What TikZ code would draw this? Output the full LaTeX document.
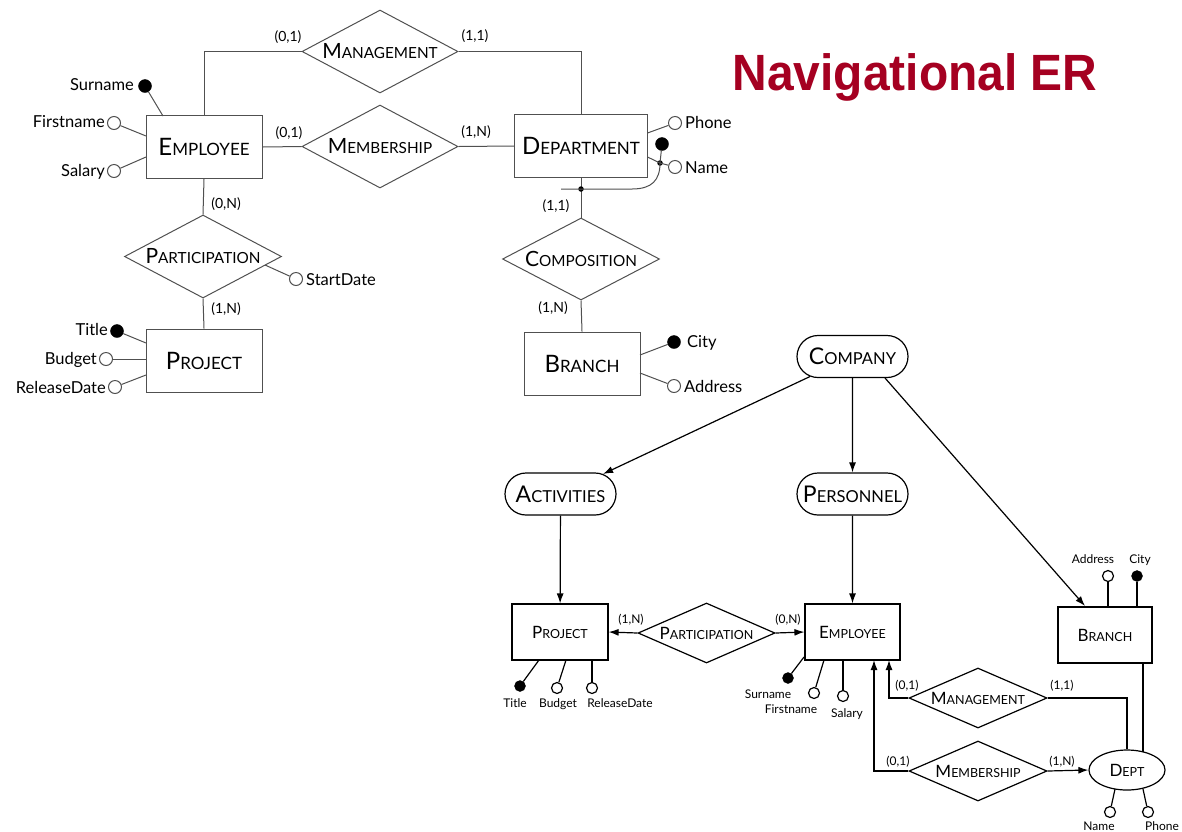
\documentclass[tikz,border=0pt]{standalone}
\usepackage{fontspec}
\setmainfont{Lato}
\newfontfamily\titlefont{Liberation Sans}
\usetikzlibrary{shapes.geometric,shapes.misc,arrows.meta}
\definecolor{titlered}{RGB}{165,0,33}
\definecolor{lg}{RGB}{80,80,80}
\newcommand\fsc[4]{{\fontsize{#1}{#1}\selectfont #3}{\fontsize{#2}{#2}\selectfont #4}}
\newcommand\fs[1]{\fontsize{#1}{#1}\selectfont}
\tikzset{
  tbox/.style={draw=lg, line width=1pt, rectangle, minimum width=116pt, minimum height=63pt, inner sep=0pt},
  trel/.style={draw=lg, line width=1pt, diamond, aspect=1.88, minimum width=156pt, minimum height=83pt, inner sep=0pt},
  tline/.style={draw=lg, line width=1pt},
  tcard/.style={font=\fs{14}, inner sep=0pt},
  tatt/.style={font=\fs{16.5}, inner sep=0pt},
  topen/.style={circle, draw=lg, line width=1pt, fill=white, minimum size=13pt, inner sep=0pt},
  tfull/.style={circle, draw=black, fill=black, minimum size=13pt, inner sep=0pt},
  tdot/.style={circle, fill=black, minimum size=5.5pt, inner sep=0pt},
  lbox/.style={draw, line width=1.2pt, rectangle, minimum height=56pt, inner sep=0pt},
  lrel/.style={draw, line width=1.2pt, diamond, aspect=2.28, minimum width=137pt, minimum height=60pt, inner sep=0pt},
  loval/.style={draw, line width=1.2pt, rounded rectangle, minimum width=111pt, minimum height=42pt, inner sep=0pt},
  lline/.style={line width=1.2pt},
  larr/.style={line width=1.2pt, -{Latex[length=10pt,width=7pt]}},
  lcard/.style={font=\fs{12}, inner sep=0pt},
  latt/.style={font=\fs{12}, inner sep=0pt},
  lopen/.style={circle, draw, line width=1.2pt, fill=white, minimum size=11pt, inner sep=0pt},
  lfull/.style={circle, draw, fill=black, minimum size=11pt, inner sep=0pt},
}
\begin{document}
\begin{tikzpicture}[x=1pt,y=-1pt]
\useasboundingbox[fill=white] (0,0) rectangle (1182,831);

% ---------- title ----------
\node[font=\titlefont\bfseries\fs{51}, text=titlered, anchor=base, xscale=0.94, inner sep=0pt] (title) at (915,90) {Navigational ER};

% ---------- top diagram ----------
\node[tbox] (emp) at (204,147) {\fsc{24}{17}{E}{MPLOYEE}};
\node[tbox, minimum width=133pt] (dep) at (581,146) {\fsc{24}{17}{D}{EPARTMENT}};
\node[tbox] (proj) at (204,360.5) {\fsc{24}{17}{P}{ROJECT}};
\node[tbox] (bra) at (582,363.5) {\fsc{24}{17}{B}{RANCH}};
\node[trel] (mgmt) at (380,51.5) {\fsc{21}{15.3}{M}{ANAGEMENT}};
\node[trel] (memb) at (380,146.5) {\fsc{21}{15.3}{M}{EMBERSHIP}};
\node[trel, minimum width=157pt] (part) at (203,256.5) {\fsc{21}{15.3}{P}{ARTICIPATION}};
\node[trel, minimum width=157pt, minimum height=82pt] (comp) at (581,259) {\fsc{21}{15.3}{C}{OMPOSITION}};

\draw[tline] (mgmt.west) -| (emp.north);
\draw[tline] (mgmt.east) -| (dep.north);
\draw[tline] (emp.east) -- (memb.west);
\draw[tline] (memb.east) -- (dep.west);
\draw[tline] (emp.south) -- (part.north);
\draw[tline] (part.south) -- (proj.north);
\draw[tline] (dep.south) -- (comp.north);
\draw[tline] (comp.south) -- (bra.north);

\node[tcard] (c1) at (288,37) {(0,1)};
\node[tcard] (c2) at (475,36) {(1,1)};
\node[tcard] (c3) at (289,133) {(0,1)};
\node[tcard] (c4) at (476,132) {(1,N)};
\node[tcard] (c5) at (226,204) {(0,N)};
\node[tcard] (c6) at (226,309) {(1,N)};
\node[tcard] (c7) at (556,206) {(1,1)};
\node[tcard] (c8) at (553,308) {(1,N)};

% employee attributes
\coordinate (eA) at (163,116);
\coordinate (eB) at (146,136);
\coordinate (eC) at (146,157);
\node[tfull] (surC) at (145,86) {};
\node[topen] (firC) at (114,123) {};
\node[topen] (salC) at (114,171) {};
\draw[tline] (surC) -- (eA);
\draw[tline] (firC) -- (eB);
\draw[tline] (salC) -- (eC);
\node[tatt, anchor=base east] (surL) at (134,90) {Surname};
\node[tatt, anchor=base east] (firL) at (105,127) {Firstname};
\node[tatt, anchor=base east] (salL) at (105,176) {Salary};

% participation attribute
\coordinate (pA) at (265,265);
\node[topen] (stC) at (296,279) {};
\draw[tline] (pA) -- (stC);
\node[tatt, anchor=base west] (stL) at (306,285) {StartDate};

% project attributes
\coordinate (prA) at (146,343);
\coordinate (prB) at (146,359);
\coordinate (prC) at (146,375);
\node[tfull] (tiC) at (117,331) {};
\node[topen] (buC) at (106,359) {};
\node[topen] (reC) at (115,387) {};
\draw[tline] (tiC) -- (prA);
\draw[tline] (buC) -- (prB);
\draw[tline] (reC) -- (prC);
\node[tatt, anchor=base east] (tiL) at (108,335) {Title};
\node[tatt, anchor=base east] (buL) at (97,364) {Budget};
\node[tatt, anchor=base east] (reL) at (106,393) {ReleaseDate};

% department attributes
\coordinate (dA) at (647.5,133);
\coordinate (dB) at (647.5,157);
\node[topen] (phC) at (675,123) {};
\node[topen] (naC) at (675,167) {};
\node[tfull] (dbig) at (662,144) {};
\node[tdot] (dsm) at (660,163) {};
\node[tdot] (csm) at (581,189) {};
\coordinate (extL) at (561,189);
\draw[tline] (dA) -- (phC);
\draw[tline] (dB) -- (dsm.center) -- (naC);
\draw[tline] (dbig) -- (dsm.center);
\draw[tline] (dsm.center) .. controls (660,180) and (652,189) .. (632,189) -- (extL);
\node[tatt, anchor=base west] (phL) at (685,128) {Phone};
\node[tatt, anchor=base west] (naL) at (685,173) {Name};

% branch attributes
\coordinate (bA) at (640,355);
\coordinate (bB) at (640,373);
\node[tfull] (ciC) at (674,342) {};
\node[topen] (adC) at (674,386) {};
\draw[tline] (bA) -- (ciC);
\draw[tline] (bB) -- (adC);
\node[tatt, anchor=base west] (ciL) at (687,347) {City};
\node[tatt, anchor=base west] (adL) at (684,392) {Address};

% ---------- bottom (navigational) diagram ----------
\node[loval] (company) at (852.5,356.5) {\fsc{23}{16.5}{C}{OMPANY}};
\node[loval] (activities) at (560.5,494) {\fsc{23}{16.5}{A}{CTIVITIES}};
\node[loval] (personnel) at (852.5,494) {\fsc{23}{16.5}{P}{ERSONNEL}};
\node[lbox, minimum width=96pt] (lproj) at (560,632) {\fsc{17}{12.5}{P}{ROJECT}};
\node[lbox, minimum width=95pt] (lemp) at (852.5,632) {\fsc{17}{12.5}{E}{MPLOYEE}};
\node[lbox, minimum width=94pt] (lbra) at (1105,635) {\fsc{17}{12.5}{B}{RANCH}};
\node[lrel] (lpart) at (706.5,633) {\fsc{17}{12.5}{P}{ARTICIPATION}};
\node[lrel, minimum width=138pt] (lmgmt) at (978,698) {\fsc{17}{12.5}{M}{ANAGEMENT}};
\node[lrel, minimum width=138pt] (lmemb) at (978,771) {\fsc{17}{12.5}{M}{EMBERSHIP}};
\node[draw, line width=1.2pt, ellipse, minimum width=76pt, minimum height=40pt, inner sep=0pt] (dept) at (1127,770) {\fsc{17}{12.5}{D}{EPT}};

\coordinate (cbA) at (885,378);
\coordinate (cbB) at (1085,606);
\coordinate (lempA) at (889,660);
\coordinate (lempB) at (874,660);
\coordinate (lbrB) at (1143,663);
\coordinate (deptB) at (1143,752);

\draw[larr] (company) -- (activities);
\draw[larr] (company) -- (personnel);
\draw[larr] (cbA) -- (cbB);
\draw[larr] (activities) -- (lproj);
\draw[larr] (personnel) -- (lemp);
\draw[larr] (lpart.west) -- (lproj.east);
\draw[larr] (lpart.east) -- (lemp.west);
\draw[larr] (lmgmt.west) -| (lempA);
\draw[lline] (lmgmt.east) -| (dept.north);
\draw[lline] (lbrB) -- (deptB);
\draw[larr] (lmemb.west) -| (lempB);
\draw[larr] (lmemb.east) -- (dept.west);

\node[lcard] (k1) at (631,620) {(1,N)};
\node[lcard] (k2) at (788,620) {(0,N)};
\node[lcard] (k3) at (907,686) {(0,1)};
\node[lcard] (k4) at (1062,686) {(1,1)};
\node[lcard] (k5) at (898,762) {(0,1)};
\node[lcard] (k6) at (1062,762) {(1,N)};

% project attributes (bottom)
\coordinate (lpA) at (539,660);
\coordinate (lpB) at (566,660);
\coordinate (lpC) at (592,660);
\node[lfull] (ltiC) at (520,686) {};
\node[lopen] (lbuC) at (557,688) {};
\node[lopen] (lreC) at (592,688) {};
\draw[lline] (lpA) -- (ltiC);
\draw[lline] (lpB) -- (lbuC);
\draw[lline] (lpC) -- (lreC);
\node[latt, anchor=base] (ltiL) at (515,707) {Title};
\node[latt, anchor=base] (lbuL) at (558,707) {Budget};
\node[latt, anchor=base] (lreL) at (620,707) {ReleaseDate};

% employee attributes (bottom)
\coordinate (leA) at (804,657);
\coordinate (leB) at (824,660);
\coordinate (leC) at (843,660);
\node[lfull] (lsuC) at (788,678) {};
\node[lopen] (lfiC) at (814,693) {};
\node[lopen] (lsaC) at (843,696) {};
\draw[lline] (leA) -- (lsuC);
\draw[lline] (leB) -- (lfiC);
\draw[lline] (leC) -- (lsaC);
\node[latt, anchor=base] (lsuL) at (768,698) {Surname};
\node[latt, anchor=base] (lfiL) at (791,713) {Firstname};
\node[latt, anchor=base] (lsaL) at (847,717) {Salary};

% branch attributes (bottom)
\coordinate (lbA) at (1108,607);
\coordinate (lbB) at (1137,607);
\node[lopen] (ladC) at (1108,576) {};
\node[lfull] (lciC) at (1137,576) {};
\draw[lline] (lbA) -- (ladC);
\draw[lline] (lbB) -- (lciC);
\node[latt, anchor=base] (ladL) at (1093,563) {Address};
\node[latt, anchor=base] (lciL) at (1140,563) {City};

% dept attributes
\coordinate (dtA) at (1115,789);
\coordinate (dtB) at (1143,789);
\node[lopen] (lnaC) at (1110,812) {};
\node[lopen] (lphC) at (1148,812) {};
\draw[lline] (dtA) -- (lnaC);
\draw[lline] (dtB) -- (lphC);
\node[latt, anchor=base] (lnaL) at (1099,830) {Name};
\node[latt, anchor=base] (lphL) at (1162,830) {Phone};
\end{tikzpicture}
\end{document}
